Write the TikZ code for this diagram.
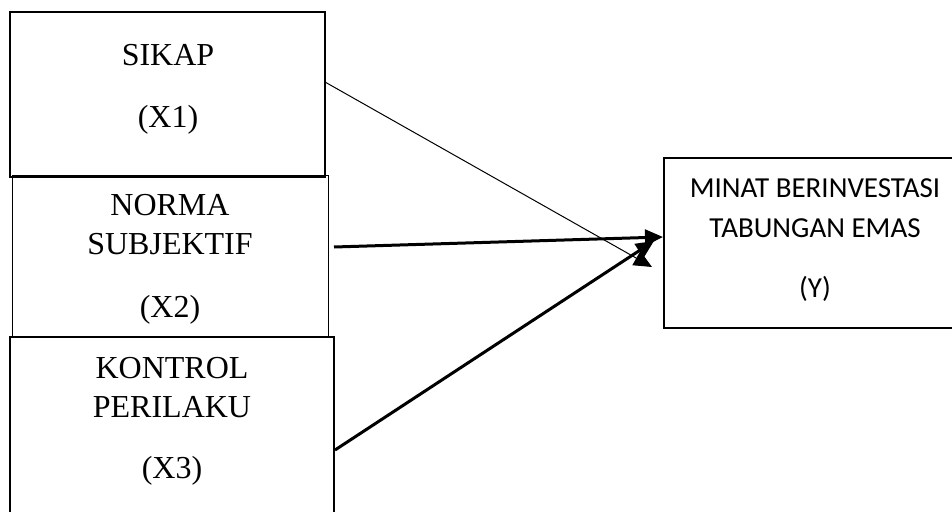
\documentclass[tikz,border=0pt]{standalone}
\usepackage{fontspec}
\setmainfont{Liberation Serif}
\newfontfamily\calibri{Carlito}
\usetikzlibrary{arrows.meta}
\tikzset{
  box/.style={draw, line width=#1, inner sep=0pt, outer sep=0pt},
  serif/.style={anchor=base, inner sep=0pt, font=\fontsize{32}{38}\selectfont},
  sans/.style={anchor=base, inner sep=0pt, font=\calibri\fontsize{29}{35}\selectfont},
  conn/.style={line width=#1, -{Triangle[length=18pt,width=16pt]}},
}
\begin{document}
\begin{tikzpicture}[x=1pt,y=-1pt]
\clip (0,0) rectangle (952,511);
\fill[white] (0,0) rectangle (952,511);
% boxes
\draw[box=2.2pt] (10,12) rectangle (325,177);
\draw[box=1pt] (12,175) rectangle (328,336);
\draw[box=2.2pt] (10,337) rectangle (334,530);
\draw[box=2.2pt] (664,158) rectangle (970,328);
% texts
\node[serif] (t1a) at (168,65) {SIKAP};
\node[serif] (t1b) at (168,127) {(X1)};
\node[serif] (t2a) at (170,215) {NORMA};
\node[serif] (t2b) at (170,254) {SUBJEKTIF};
\node[serif] (t2c) at (170,317) {(X2)};
\node[serif] (t3a) at (172,378) {KONTROL};
\node[serif] (t3b) at (172,417) {PERILAKU};
\node[serif] (t3c) at (172,478) {(X3)};
\node[sans] (ya) at (815,197) {MINAT BERINVESTASI};
\node[sans] (yb) at (815,237) {TABUNGAN EMAS};
\node[sans] (yc) at (815,297) {(Y)};
% connector endpoints
\coordinate (s1) at (325,82);
\coordinate (e1) at (652,267);
\coordinate (s2) at (334,247);
\coordinate (e2) at (663,237);
\coordinate (s3) at (335,450);
\coordinate (e3) at (654,241);
\draw[conn=1pt] (s1) -- (e1);
\draw[conn=3pt] (s2) -- (e2);
\draw[conn=3pt] (s3) -- (e3);
\end{tikzpicture}
\end{document}
